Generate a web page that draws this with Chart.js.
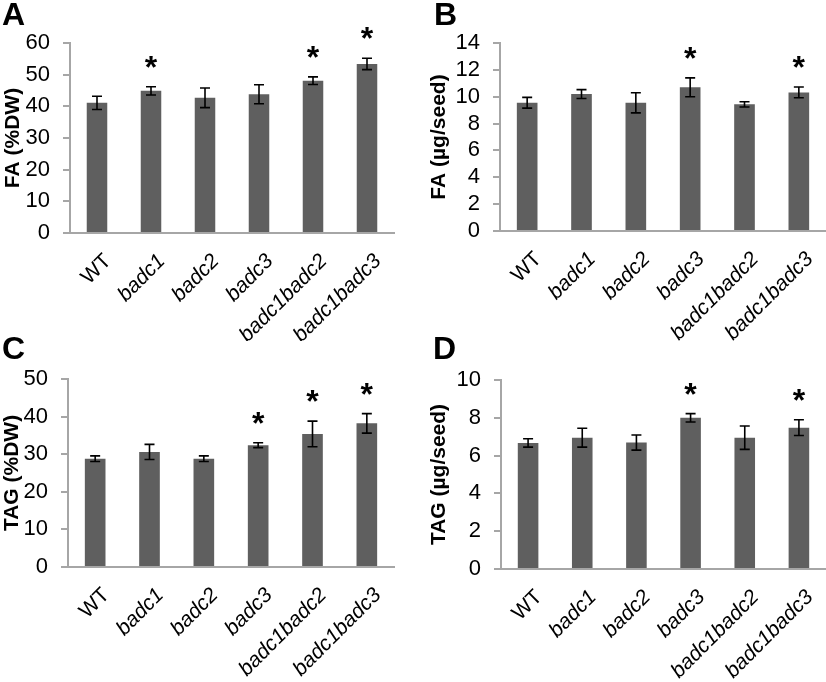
<!DOCTYPE html>
<html>
<head>
<meta charset="utf-8">
<script src="https://cdn.jsdelivr.net/npm/chart.js@4.4.1/dist/chart.umd.min.js"></script>
<style>
    body { margin: 0; background: #fff; width: 826px; height: 682px; position: relative; overflow: hidden;
           font-family: 'Liberation Sans', Arial, sans-serif; }
    .panel { position: absolute; width: 413px; height: 341px; }
    .letter { position: absolute; font-weight: bold; font-size: 32px; line-height: 1; color: #000; }
</style>
</head>
<body>
<div class="panel" style="left:0;top:0"><canvas id="chartA" width="413" height="341"></canvas></div>
<div class="panel" style="left:413px;top:0"><canvas id="chartB" width="413" height="341"></canvas></div>
<div class="panel" style="left:0;top:341px"><canvas id="chartC" width="413" height="341"></canvas></div>
<div class="panel" style="left:413px;top:341px"><canvas id="chartD" width="413" height="341"></canvas></div>
<div class="letter" style="left:2px;top:-2px">A</div>
<div class="letter" style="left:434px;top:-2px">B</div>
<div class="letter" style="left:2px;top:332px">C</div>
<div class="letter" style="left:433px;top:332px">D</div>
<script>
const FONT = "'Liberation Sans', Arial, sans-serif";
const BAR_COLOR = '#5f5f5f';
const AXIS_COLOR = '#a6a6a6';

const categories = ['WT', 'badc1', 'badc2', 'badc3', 'badc1badc2', 'badc1badc3'];

// A: FA (%DW)
const faDw = [41.1, 44.9, 42.7, 43.8, 48.1, 53.4];
const faDwErr = [2.1, 1.3, 3.1, 3.0, 1.2, 1.8];
const faDwStars = [1, 4, 5];

// B: FA (ug/seed)
const faSeed = [9.55, 10.2, 9.55, 10.7, 9.43, 10.32];
const faSeedErr = [0.4, 0.33, 0.75, 0.7, 0.2, 0.4];
const faSeedStars = [3, 5];

// C: TAG (%DW)
const tagDw = [28.8, 30.6, 28.8, 32.4, 35.4, 38.2];
const tagDwErr = [0.75, 2.0, 0.75, 0.65, 3.4, 2.6];
const tagDwStars = [3, 4, 5];

// D: TAG (ug/seed)
const tagSeed = [6.67, 6.95, 6.69, 8.0, 6.95, 7.48];
const tagSeedErr = [0.22, 0.5, 0.4, 0.22, 0.62, 0.42];
const tagSeedStars = [3, 5];

/**
 * Error bars with caps, plus significance asterisks above them.
 */
function errorBarPlugin(errors, stars) {
    return {
        id: 'errorBars',
        afterDatasetsDraw(chart) {
            const { ctx } = chart;
            const y = chart.scales.y;
            const meta = chart.getDatasetMeta(0);
            const values = chart.data.datasets[0].data;
            ctx.save();
            ctx.strokeStyle = '#000';
            ctx.lineWidth = 1.6;
            meta.data.forEach((bar, i) => {
                const top = y.getPixelForValue(values[i] + errors[i]);
                const bot = y.getPixelForValue(values[i] - errors[i]);
                ctx.beginPath();
                ctx.moveTo(bar.x, top);
                ctx.lineTo(bar.x, bot);
                ctx.moveTo(bar.x - 5, top);
                ctx.lineTo(bar.x + 5, top);
                ctx.moveTo(bar.x - 5, bot);
                ctx.lineTo(bar.x + 5, bot);
                ctx.stroke();
            });
            ctx.fillStyle = '#000';
            ctx.font = 'bold 32px ' + FONT;
            ctx.textAlign = 'center';
            ctx.textBaseline = 'alphabetic';
            stars.forEach(i => {
                const top = y.getPixelForValue(values[i] + errors[i]);
                ctx.fillText('*', meta.data[i].x, top - 27 + 18);
            });
            ctx.restore();
        },
    };
}

function renderPanel(canvas, cfg) {
    return new Chart(canvas, {
        type: 'bar',
        data: {
            labels: categories,
            datasets: [{
                data: cfg.values,
                backgroundColor: BAR_COLOR,
                borderWidth: 0,
                categoryPercentage: 1,
                barPercentage: 0.38,
            }],
        },
        options: {
            responsive: false,
            animation: false,
            layout: { padding: { top: cfg.top, right: cfg.right, bottom: 0, left: 0 } },
            scales: {
                x: {
                    grid: { display: false },
                    border: { color: AXIS_COLOR, width: 2 },
                    ticks: {
                        color: '#000',
                        autoSkip: false,
                        minRotation: 45,
                        maxRotation: 45,
                        padding: 8,
                        labelOffset: 11,
                        font: (c) => ({
                            family: FONT,
                            size: 21,
                            style: c.index === 0 ? 'normal' : 'italic',
                        }),
                    },
                    afterFit: (scale) => { scale.height = cfg.xHeight; },
                },
                y: {
                    min: 0,
                    max: cfg.max,
                    grid: {
                        drawOnChartArea: false,
                        drawTicks: true,
                        tickLength: 7,
                        color: AXIS_COLOR,
                        lineWidth: 2,
                    },
                    border: { color: AXIS_COLOR, width: 2 },
                    ticks: {
                        stepSize: cfg.step,
                        autoSkip: false,
                        color: '#000',
                        padding: 13,
                        font: { family: FONT, size: 22 },
                    },
                    title: {
                        display: true,
                        text: cfg.title,
                        color: '#000',
                        font: { family: FONT, size: 21, weight: 'bold' },
                        padding: { top: cfg.titlePad, bottom: 0 },
                    },
                    afterFit: (scale) => { scale.width = cfg.yWidth; },
                },
            },
            plugins: {
                legend: { display: false },
                tooltip: { enabled: false },
            },
        },
        plugins: [errorBarPlugin(cfg.errors, cfg.stars)],
    });
}

renderPanel(document.getElementById('chartA'), {
    values: faDw, errors: faDwErr, stars: faDwStars, max: 60, step: 10,
    title: 'FA (%DW)', top: 43, right: 19, xHeight: 108, yWidth: 70, titlePad: 1,
});
renderPanel(document.getElementById('chartB'), {
    values: faSeed, errors: faSeedErr, stars: faSeedStars, max: 14, step: 2,
    title: 'FA (µg/seed)', top: 43, right: 0, xHeight: 110, yWidth: 87, titlePad: 14,
});
renderPanel(document.getElementById('chartC'), {
    values: tagDw, errors: tagDwErr, stars: tagDwStars, max: 50, step: 10,
    title: 'TAG (%DW)', top: 38, right: 19, xHeight: 115, yWidth: 68, titlePad: 0,
});
renderPanel(document.getElementById('chartD'), {
    values: tagSeed, errors: tagSeedErr, stars: tagSeedStars, max: 10, step: 2,
    title: 'TAG (µg/seed)', top: 39, right: 0, xHeight: 113, yWidth: 88, titlePad: 14,
});
</script>
</body>
</html>
